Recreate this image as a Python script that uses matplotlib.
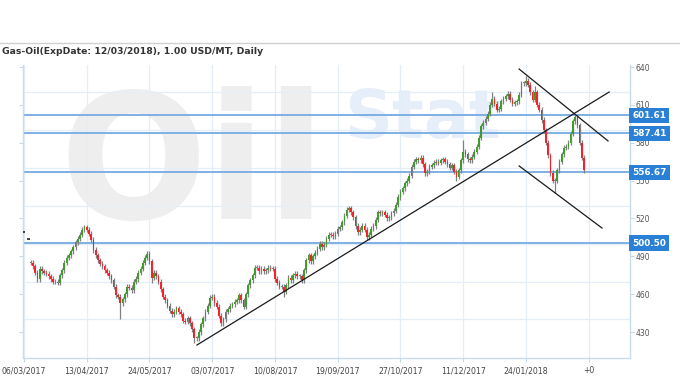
import numpy as np
import matplotlib.pyplot as plt
from matplotlib.transforms import blended_transform_factory

title = 'Gas-Oil(ExpDate: 12/03/2018), 1.00 USD/MT, Daily'
date_labels = ['06/03/2017', '13/04/2017', '24/05/2017', '03/07/2017', '10/08/2017',
               '19/09/2017', '27/10/2017', '11/12/2017', '24/01/2018', '+0']
bars_per_label = 28

# daily closes, first bar is bar #3
first_bar = 3
closes = [
    485, 482, 477, 472, 480, 478, 477, 476, 474, 472, 470, 470, 469, 475, 479, 485,
    489, 491, 494, 497, 501, 504, 507, 511, 513, 511, 508, 503, 495, 491, 487, 484,
    482, 479, 477, 474, 471, 466, 459, 458, 453, 456, 460, 466, 465, 463, 470, 472,
    477, 480, 485, 489, 492, 486, 473, 477, 474, 470, 464, 458, 455, 451, 447, 444,
    446, 449, 446, 444, 439, 438, 441, 437, 432, 425, 425, 430, 436, 441, 446, 451,
    457, 458, 453, 450, 443, 437, 440, 446, 448, 451, 452, 454, 455, 459, 455, 450,
    460, 467, 471, 475, 481, 481, 478, 480, 478, 479, 481, 480, 480, 472, 469, 466,
    466, 462, 467, 473, 471, 475, 476, 474, 474, 471, 479, 487, 491, 486, 490, 493,
    496, 500, 497, 499, 504, 507, 507, 506, 508, 512, 513, 517, 522, 527, 528, 525,
    521, 514, 509, 511, 514, 511, 505, 507, 512, 514, 519, 525, 524, 525, 523, 520,
    521, 524, 526, 531, 537, 541, 544, 548, 550, 554, 561, 565, 567, 566, 568, 563,
    556, 557, 561, 562, 564, 565, 564, 566, 567, 565, 563, 560, 562, 557, 553, 558,
    566, 573, 571, 567, 566, 569, 573, 577, 584, 593, 596, 599, 603, 610, 615, 611,
    606, 607, 613, 615, 617, 619, 614, 611, 612, 613, 618, 627, 627, 629, 626, 620,
    614, 620, 610, 606, 598, 590, 580, 570, 556, 550, 550, 558, 565, 571, 576, 577,
    580, 587, 597, 600, 594, 580, 568, 558,
]
# long wicks seen on the chart (bar -> price)
high_wicks = {27: 515, 196: 582, 209: 620, 224: 633, 228: 625}
low_wicks = {43: 440, 57: 469, 76: 421, 116: 458, 153: 503, 193: 550, 237: 540, 250: 556}

stray_idx = [0, 2]
stray_val = [509, 504]

levels = [601.61, 587.41, 556.67, 500.50]
grid_levels = [620, 590, 560, 530, 500, 470, 440]
y_ticks = [430, 460, 490, 520, 550, 580, 610, 640]

support_x, support_y = [77.2, 261.2], [419.7, 620.2]
upper_x, upper_y = [221, 260.7], [638.4, 581.4]
lower_x, lower_y = [221, 258], [561.6, 512.4]

fig = plt.figure(figsize=(6.8, 3.8), dpi=100)
ax = fig.add_axes([23 / 680, 1 - 358 / 380, 607 / 680, 293 / 380])
ax.set_xlim(-0.45, 270.5)
ax.set_ylim(409.4, 641.6)

# watermark
ax.text(0.06, 0.93, 'Oil', transform=ax.transAxes, fontsize=125, fontweight='bold',
        color='#eeeeee', va='top', ha='left', zorder=0)
ax.text(0.53, 0.93, 'Stat', transform=ax.transAxes, fontsize=48, fontweight='bold',
        color='#e6eff9', va='top', ha='left', zorder=0)

grid_c = '#e4eef8'
for g in grid_levels:
    ax.axhline(g, color=grid_c, lw=0.9, zorder=0.5)
for k in range(len(date_labels)):
    ax.axvline(k * bars_per_label, color=grid_c, lw=0.9, zorder=0.5)

# candles
c = np.array(closes, dtype=float)
idx = np.arange(first_bar, first_bar + len(c))
o = np.r_[c[0], c[:-1]]
hi = np.maximum(o, c) + 2
lo = np.minimum(o, c) - 2
for b, v in high_wicks.items():
    hi[b - first_bar] = v
for b, v in low_wicks.items():
    lo[b - first_bar] = v
ax.vlines(idx, lo, hi, color='#808080', lw=0.9, zorder=2)
col = np.where(c > o, '#3f9b2c', np.where(c < o, '#f2232b', '#808080'))
ax.bar(idx, np.maximum(np.abs(c - o), 0.8), bottom=np.minimum(o, c), width=0.75,
       color=col, linewidth=0, zorder=3)
ax.hlines(stray_val, np.array(stray_idx) - 0.5, np.array(stray_idx) + 0.5,
          color='#222222', lw=1.2, zorder=3)

# levels
trans = blended_transform_factory(ax.transAxes, ax.transData)
for lv in levels:
    ax.axhline(lv, color='#7fb0e3', lw=1.4, zorder=1.5)
    ax.text(1.004, lv, f'{lv:.2f}', transform=trans, ha='left', va='center',
            fontsize=6.4, fontweight='bold', color='white', zorder=6, clip_on=False,
            bbox=dict(boxstyle='square,pad=0.35', fc='#2a80d6', ec='none'))

# trend lines
for tx, ty in [(support_x, support_y), (upper_x, upper_y), (lower_x, lower_y)]:
    ax.plot(tx, ty, color='#1a1a1a', lw=0.9, zorder=4)

ax.set_xticks(np.arange(len(date_labels)) * bars_per_label)
ax.set_xticklabels(date_labels, fontsize=5.6, color='#444444')
ax.set_yticks(y_ticks)
ax.set_yticklabels([str(t) for t in y_ticks], fontsize=5.5, color='#555555')
ax.tick_params(axis='y', left=True, right=True, labelleft=False, labelright=True,
               length=3, width=0.6, color='#b9cfe6', pad=1)
ax.tick_params(axis='x', length=3, width=0.6, color='#b9cfe6', pad=3)
ax.grid(False)
for side in ['left', 'right', 'bottom']:
    ax.spines[side].set_color('#c8dcf0')
    ax.spines[side].set_linewidth(1.0)
ax.spines['top'].set_visible(False)

fig.add_artist(plt.Line2D([0, 1], [1 - 43 / 380] * 2, color='#d0d0d0', lw=1.0))
fig.text(2 / 680, 1 - 52 / 380, title, fontsize=6.7, fontweight='bold',
         color='#333333', ha='left', va='center')

fig.savefig('out.png', dpi=100)
